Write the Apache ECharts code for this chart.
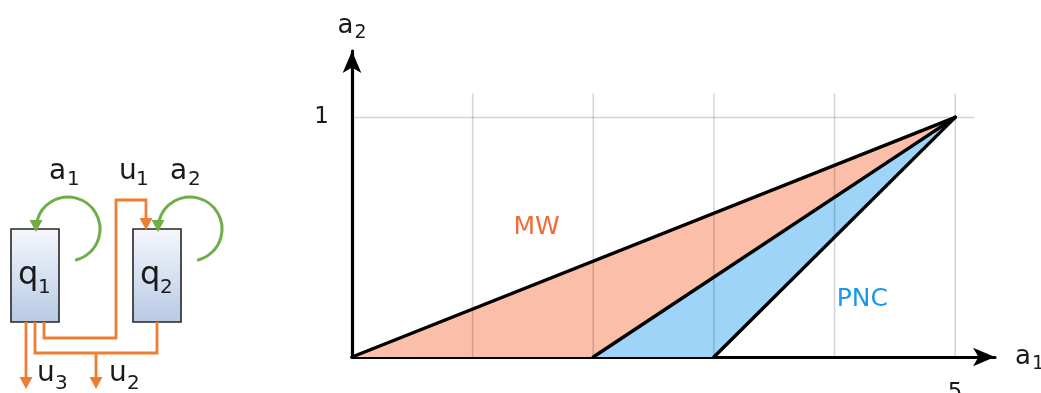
<!DOCTYPE html>
<html>
<head>
<meta charset="utf-8">
<script src="https://cdn.jsdelivr.net/npm/echarts@6/dist/echarts.min.js"></script>
<style>
  html, body { margin: 0; padding: 0; background: #fff; }
  #chart { width: 1041px; height: 393px; }
</style>
</head>
<body>
<div id="chart"></div>
<script>
// Regions of the (a1, a2) plane, as polygon vertices
const mwRegion = [[0, 0], [5, 1], [2, 0]];
const pncRegion = [[2, 0], [5, 1], [3, 0]];
// Boundary segments of the regions
const boundaries = [
  [[0, 0], [5, 1]],
  [[2, 0], [5, 1]],
  [[3, 0], [5, 1]]
];
// Guide lines
const verticalGuides = [1, 2, 3, 4, 5];
const horizontalGuides = [1];
const guideTop = 1.1;
const guideRight = 5.16;
// Tick values that carry a label
const xTickLabels = [5];
const yTickLabels = [1];
// Region names and the point each name is centred on
const regionNames = ['MW', 'PNC'];
const regionAnchors = [[1.53, 0.54], [4.23, 0.24]];

const FONT = '"DejaVu Sans", Verdana, sans-serif';
const INK = '#1a1a1a';
const ORANGE = '#ed7d31';
const GREEN = '#70ad47';

const regions = [mwRegion, pncRegion];
const regionFills = ['#fbbea8', '#9dd4f8'];
const regionText = ['#f36b38', '#1a98ee'];

const chart = echarts.init(document.getElementById('chart'), null, { renderer: 'canvas' });

const subRich = () => ({
  m: { fontSize: 26, lineHeight: 30, fontFamily: FONT, color: INK },
  s: { fontSize: 19, lineHeight: 30, fontFamily: FONT, color: INK, padding: [14, 0, 0, 1] }
});

// ---- queue diagram on the left ----
function label(x, y, text, size) {
  return {
    type: 'text', x: x, y: y, silent: true,
    style: { text: text, font: size + 'px ' + FONT, fill: INK, align: 'left', verticalAlign: 'middle' }
  };
}
function subscripted(x, y, main, sub, mainSize, subSize, subX, subY) {
  return [label(x, y, main, mainSize), label(subX, subY, sub, subSize)];
}
function queueBox(x) {
  return {
    type: 'rect', silent: true,
    shape: { x: x, y: 229, width: 48, height: 93 },
    style: {
      fill: new echarts.graphic.LinearGradient(0, 0, 0, 1, [
        { offset: 0, color: '#f6f8fc' },
        { offset: 1, color: '#b7c9e6' }
      ]),
      stroke: '#262626', lineWidth: 1.6
    }
  };
}
function wire(points) {
  return {
    type: 'polyline', silent: true,
    shape: { points: points },
    style: { stroke: ORANGE, lineWidth: 2.8, fill: null, lineJoin: 'miter' }
  };
}
function headDown(x, tip, color) {
  return {
    type: 'polygon', silent: true,
    shape: { points: [[x, tip], [x - 6.5, tip - 12], [x + 6.5, tip - 12]] },
    style: { fill: color }
  };
}
function loop(cx) {
  return {
    type: 'arc', silent: true,
    shape: { cx: cx, cy: 229, r: 32, startAngle: -165 * Math.PI / 180, endAngle: 77 * Math.PI / 180, clockwise: true },
    style: { stroke: GREEN, lineWidth: 3, fill: null }
  };
}

const diagram = [
  queueBox(11),
  queueBox(133),
  wire([[44, 322], [44, 338], [116, 338], [116, 200], [146, 200], [146, 219]]),
  headDown(146, 230, ORANGE),
  wire([[35, 322], [35, 353], [157, 353], [157, 322]]),
  wire([[96, 353], [96, 378]]),
  headDown(96, 389, ORANGE),
  wire([[26, 322], [26, 378]]),
  headDown(26, 389, ORANGE),
  loop(68),
  headDown(36, 232, GREEN),
  loop(190),
  headDown(158, 232, GREEN)
].concat(
  subscripted(49, 172, 'a', '1', 28, 20, 67, 180),
  subscripted(119, 172, 'u', '1', 28, 20, 136, 180),
  subscripted(170, 172, 'a', '2', 28, 20, 188, 180),
  subscripted(18, 276, 'q', '1', 32, 20, 38, 288),
  subscripted(140, 276, 'q', '2', 32, 20, 160, 288),
  subscripted(37, 374, 'u', '3', 28, 20, 55, 384),
  subscripted(109, 374, 'u', '2', 28, 20, 127, 384)
);

const option = {
  animation: false,
  backgroundColor: '#fff',
  textStyle: { fontFamily: FONT },
  grid: { left: 352, right: 46, top: 51, bottom: 36, containLabel: false, outerBoundsMode: 'none' },
  xAxis: {
    type: 'value', min: 0, max: 5.33, interval: 1,
    name: '{m|a}{s|1}', nameLocation: 'end', nameGap: 20,
    nameTextStyle: { rich: subRich(), align: 'left', verticalAlign: 'middle' },
    axisLine: {
      show: true, onZero: false, symbol: ['none', 'arrow'], symbolSize: [14, 22],
      lineStyle: { color: '#000', width: 3.2 }
    },
    axisTick: { show: false },
    splitLine: { show: false },
    axisLabel: {
      formatter: v => (xTickLabels.includes(v) ? String(v) : ''),
      fontSize: 23, color: INK, fontFamily: FONT, margin: 25,
      showMinLabel: true, showMaxLabel: true
    }
  },
  yAxis: {
    type: 'value', min: 0, max: 1.277, interval: 1,
    name: '{m|a}{s|2}', nameLocation: 'end', nameGap: 10,
    nameTextStyle: { rich: subRich(), align: 'center', verticalAlign: 'bottom' },
    axisLine: {
      show: true, onZero: false, symbol: ['none', 'arrow'], symbolSize: [14, 22],
      lineStyle: { color: '#000', width: 3.2 }
    },
    axisTick: { show: false },
    splitLine: { show: false },
    axisLabel: {
      formatter: v => (yTickLabels.includes(v) ? String(v) : ''),
      fontSize: 23, color: INK, fontFamily: FONT, margin: 23
    }
  },
  graphic: { elements: diagram },
  series: [
    {
      // filled regions
      type: 'custom', z: 1, silent: true,
      data: regions.map((pts, i) => [pts[0][0], pts[0][1], i]),
      renderItem: (params, api) => {
        const i = api.value(2);
        return {
          type: 'polygon',
          shape: { points: regions[i].map(p => api.coord(p)) },
          style: { fill: regionFills[i] }
        };
      }
    },
    {
      // vertical guides
      type: 'custom', z: 2, silent: true,
      data: verticalGuides.map(x => [x, 0]),
      renderItem: (params, api) => {
        const a = api.coord([api.value(0), 0]);
        const b = api.coord([api.value(0), guideTop]);
        return {
          type: 'line',
          shape: { x1: a[0], y1: a[1], x2: b[0], y2: b[1] },
          style: { stroke: 'rgba(0,0,0,0.17)', lineWidth: 1.5 }
        };
      }
    },
    {
      // horizontal guides
      type: 'custom', z: 2, silent: true,
      data: horizontalGuides.map(y => [0, y]),
      renderItem: (params, api) => {
        const a = api.coord([0, api.value(1)]);
        const b = api.coord([guideRight, api.value(1)]);
        return {
          type: 'line',
          shape: { x1: a[0], y1: a[1], x2: b[0], y2: b[1] },
          style: { stroke: 'rgba(0,0,0,0.17)', lineWidth: 1.5 }
        };
      }
    },
    {
      // region boundaries
      type: 'custom', z: 3, silent: true,
      data: boundaries.map((seg, i) => [seg[0][0], seg[0][1], i]),
      renderItem: (params, api) => {
        const seg = boundaries[api.value(2)];
        const a = api.coord(seg[0]);
        const b = api.coord(seg[1]);
        return {
          type: 'line',
          shape: { x1: a[0], y1: a[1], x2: b[0], y2: b[1] },
          style: { stroke: '#000', lineWidth: 3.4, lineCap: 'round' }
        };
      }
    },
    {
      // region names
      type: 'custom', z: 4, silent: true,
      data: regionAnchors.map((p, i) => [p[0], p[1], i]),
      renderItem: (params, api) => {
        const i = api.value(2);
        const c = api.coord([api.value(0), api.value(1)]);
        return {
          type: 'text', x: c[0], y: c[1],
          style: {
            text: regionNames[i], fill: regionText[i],
            font: '25px ' + FONT, align: 'center', verticalAlign: 'middle'
          }
        };
      }
    }
  ]
};

chart.setOption(option);
</script>
</body>
</html>
